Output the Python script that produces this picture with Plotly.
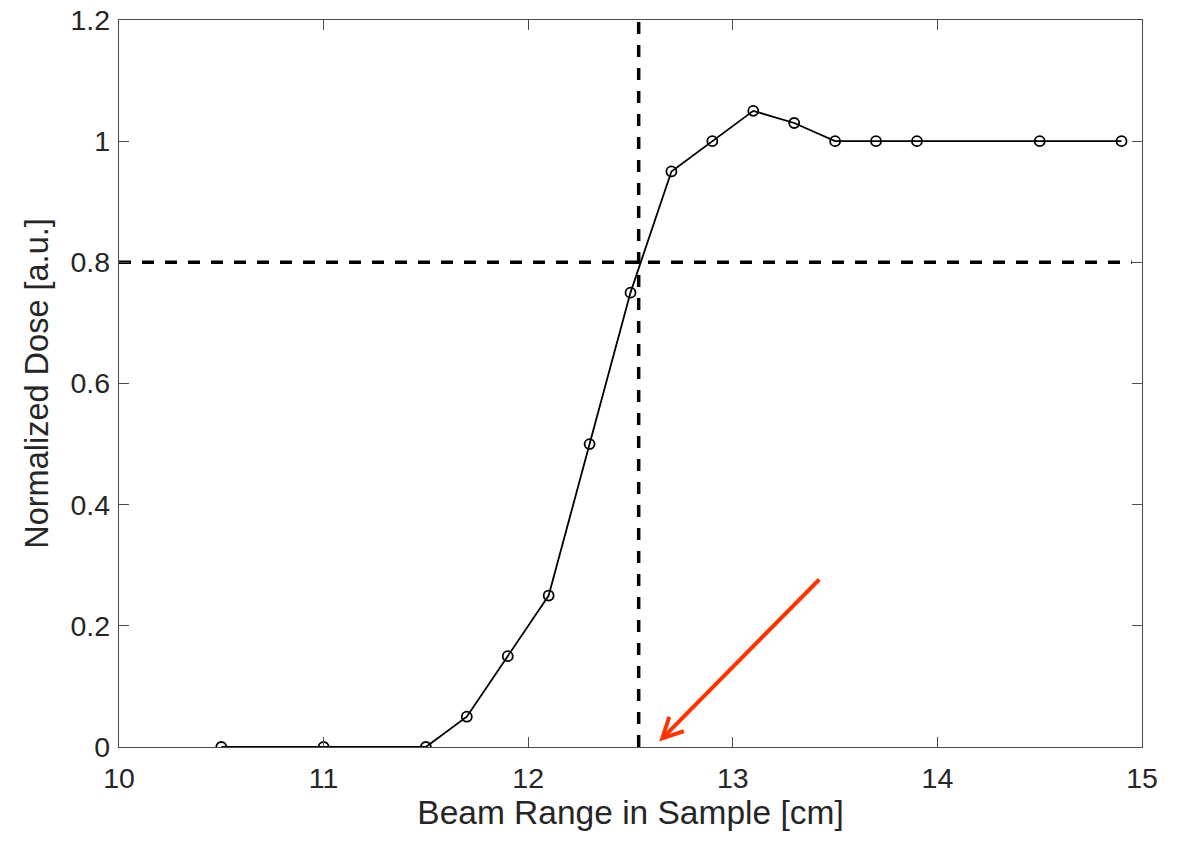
import plotly.graph_objects as go

# Data
beam_range = [10.5, 11.0, 11.5, 11.7, 11.9, 12.1, 12.3, 12.5, 12.7, 12.9, 13.1, 13.3, 13.5, 13.7, 13.9, 14.5, 14.9]
dose = [0.0, 0.0, 0.0, 0.05, 0.15, 0.25, 0.5, 0.75, 0.95, 1.0, 1.05, 1.03, 1.0, 1.0, 1.0, 1.0, 1.0]

threshold_dose = 0.8
threshold_x_span = [10.0, 14.95]
range_at_threshold = 12.54
range_y_span = [0.0, 1.2]

arrow_tail = (13.43, 0.279)
arrow_head = (12.64, 0.009)

x_ticks = [10, 11, 12, 13, 14, 15]
y_ticks = [0, 0.2, 0.4, 0.6, 0.8, 1.0, 1.2]
y_tick_text = ["0", "0.2", "0.4", "0.6", "0.8", "1", "1.2"]

FONT = "Liberation Sans, Arial, Helvetica, sans-serif"
TXT = "#262626"
AX = "#4d4d4d"

fig = go.Figure()

fig.add_trace(go.Scatter(
    x=threshold_x_span, y=[threshold_dose, threshold_dose], mode="lines",
    line=dict(color="black", width=3.5, dash="12px,11px"), hoverinfo="skip", showlegend=False))
fig.add_trace(go.Scatter(
    x=[range_at_threshold, range_at_threshold], y=range_y_span, mode="lines",
    line=dict(color="black", width=3.5, dash="12px,11px"), hoverinfo="skip", showlegend=False))

fig.add_trace(go.Scatter(
    x=beam_range, y=dose, mode="lines+markers",
    line=dict(color="black", width=1.8),
    marker=dict(symbol="circle-open", size=10, color="black", line=dict(width=1.8)),
    showlegend=False))

fig.add_annotation(
    x=arrow_head[0], y=arrow_head[1], ax=arrow_tail[0], ay=arrow_tail[1],
    xref="x", yref="y", axref="x", ayref="y",
    showarrow=True, arrowhead=5, arrowsize=1.0, arrowwidth=4, arrowcolor="#ff3300", text="")

axis_common = dict(
    showgrid=False, zeroline=False, showline=True, linecolor=AX, linewidth=1.3,
    mirror="ticks", ticks="inside", ticklen=10, tickwidth=1.2, tickcolor=AX,
    tickfont=dict(family=FONT, size=28.5, color=TXT), automargin=False,
    ticklabeloverflow="allow",
)

fig.update_layout(
    width=1184, height=843,
    margin=dict(l=111, r=50, t=12, b=104),
    paper_bgcolor="white", plot_bgcolor="white",
    xaxis=dict(range=[10, 15], tickvals=x_ticks, ticklabelstandoff=6,
               title=dict(text="Beam Range in Sample [cm]", font=dict(family=FONT, size=33.5, color=TXT), standoff=0),
               **axis_common),
    yaxis=dict(range=[0, 1.2], tickvals=y_ticks, ticktext=y_tick_text, ticklabelstandoff=2,
               title=dict(text="Normalized Dose [a.u.]", font=dict(family=FONT, size=32.5, color=TXT), standoff=12),
               **axis_common),
)

fig.write_html("out.html")
